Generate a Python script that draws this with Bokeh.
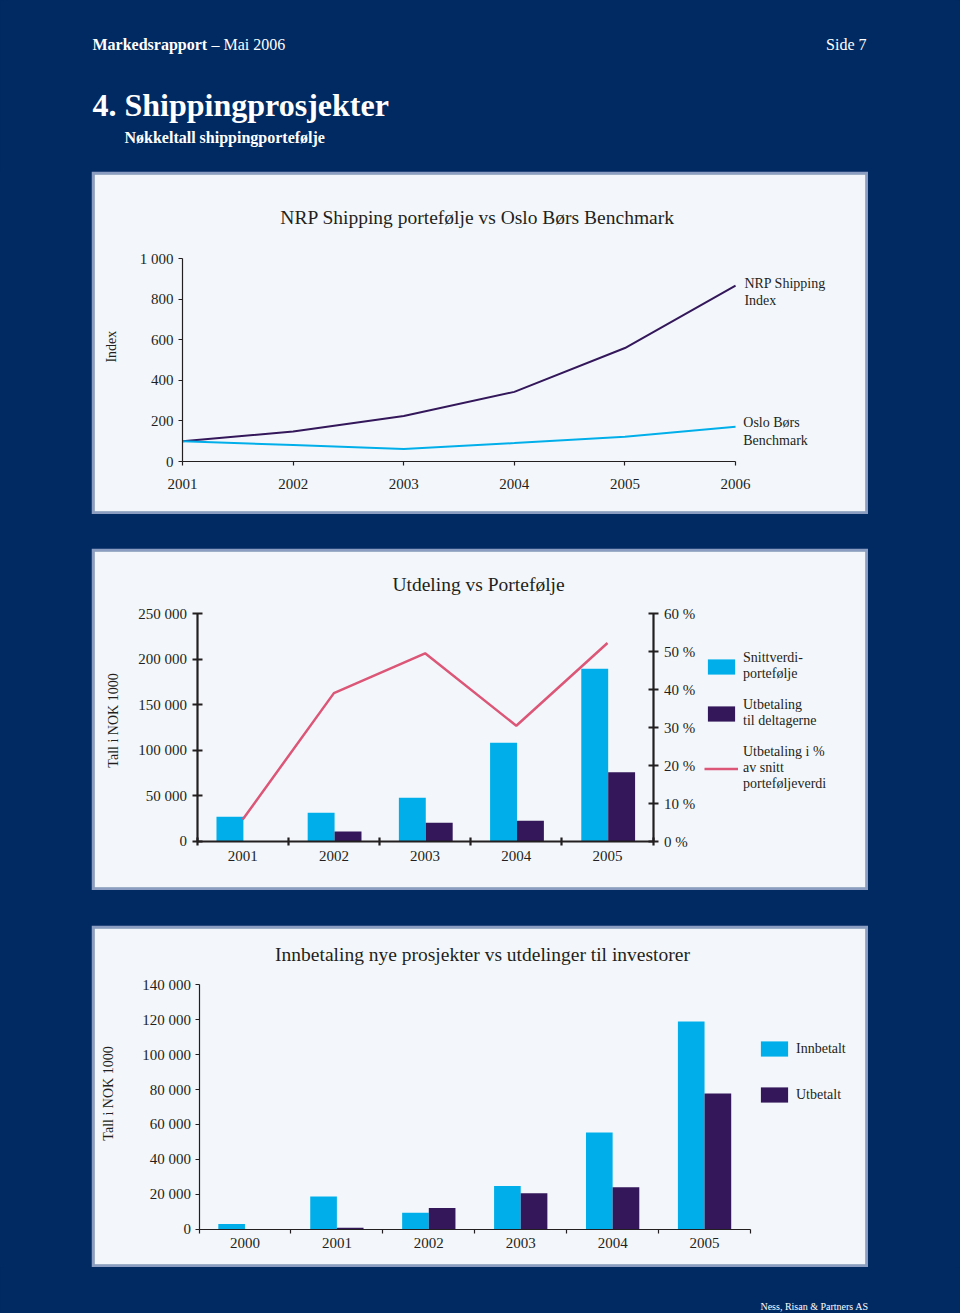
from math import pi
from bokeh.plotting import figure
from bokeh.models import (Label, FixedTicker, Range1d, LinearAxis, Legend, LegendItem,
                          Column, ColumnDataSource)
from bokeh.transform import dodge
from bokeh.embed import file_html
from bokeh.resources import INLINE

# ---------------- data ----------------
idx_years = [2001, 2002, 2003, 2004, 2005, 2006]
nrp_index = [100, 148, 224, 343, 559, 866]
oslo_index = [100, 81, 61, 91, 122, 171]
idx_ticks = [0, 200, 400, 600, 800, 1000]
idx_tick_labels = ["0", "200", "400", "600", "800", "1 000"]

ut_years = [2001, 2002, 2003, 2004, 2005]
snittverdi = [27100, 31500, 48000, 108400, 189600]
utbetaling = [0, 11000, 20500, 22700, 76100]
utbetaling_pct = [5.8, 39.1, 49.6, 30.5, 52.3]
ut_ticks = [0, 50000, 100000, 150000, 200000, 250000]
ut_tick_labels = ["0", "50 000", "100 000", "150 000", "200 000", "250 000"]
pct_ticks = [0, 10, 20, 30, 40, 50, 60]
pct_tick_labels = ["0 %", "10 %", "20 %", "30 %", "40 %", "50 %", "60 %"]

inn_years = [2000, 2001, 2002, 2003, 2004, 2005]
innbetalt = [3000, 18700, 9400, 24800, 55400, 119000]
utbetalt = [0, 900, 12200, 20600, 24100, 77700]
inn_ticks = [0, 20000, 40000, 60000, 80000, 100000, 120000, 140000]
inn_tick_labels = ["0", "20 000", "40 000", "60 000", "80 000", "100 000", "120 000", "140 000"]

# ---------------- style ----------------
NAVY = "#022a62"
PANEL = "#f3f7fb"
BORDER = "#8b9dc1"
CYAN = "#00afe9"
PURPLE = "#33175a"
PINK = "#dc5677"
INK = "#231f20"
FONT = "Liberation Serif"


def panel_fig(h, xr, yr, margin):
    # the 3px border of each panel is the figure's border fill; the frame is the inner panel
    p = figure(width=777, height=h, x_range=xr, y_range=yr, title=None,
               output_backend="svg", toolbar_location=None,
               x_axis_type=None, y_axis_type=None, min_border=3,
               background_fill_color=PANEL, border_fill_color=BORDER, outline_line_color=None,
               margin=margin)
    p.grid.visible = False
    return p


def style_axis(ax, lw, tin, tout, standoff, size="15px"):
    ax.axis_line_color = INK
    ax.axis_line_width = lw
    ax.major_tick_line_color = INK
    ax.major_tick_line_width = lw
    ax.major_tick_in = tin
    ax.major_tick_out = tout
    ax.minor_tick_line_color = None
    ax.major_label_text_font = FONT
    ax.major_label_text_font_size = size
    ax.major_label_text_color = INK
    ax.major_label_standoff = standoff


def lab(p, x, y, text, size="14px", align="left", baseline="middle", color=INK, style="normal", angle=0):
    p.add_layout(Label(x=x, y=y, text=text, text_font=FONT, text_font_size=size,
                       text_align=align, text_baseline=baseline, text_color=color,
                       text_font_style=style, angle=angle))


def legend(items, loc, spacing, standoff):
    return Legend(items=items, location=loc, glyph_width=34, glyph_height=19,
                  label_standoff=standoff, spacing=spacing, padding=0, margin=0,
                  border_line_color=None, background_fill_alpha=0,
                  label_text_font=FONT, label_text_font_size="14px", label_text_color=INK,
                  label_text_line_height=1.1)


# ---------------- header (page coordinates) ----------------
hdr = figure(width=960, height=171, x_range=Range1d(3, 957), y_range=Range1d(171, 0),
             title=None, output_backend="svg", toolbar_location=None,
             x_axis_type=None, y_axis_type=None,
             min_border_left=3, min_border_right=3, min_border_top=0, min_border_bottom=0,
             background_fill_color=NAVY, border_fill_color=NAVY, outline_line_color=None)
hdr.grid.visible = False
lab(hdr, 92, 43.5, "Markedsrapport", size="16px", color="white", style="bold")
lab(hdr, 211, 43.5, "\u2013 Mai 2006", size="16px", color="white")
lab(hdr, 866, 43.5, "Side 7", size="16px", align="right", color="white")
lab(hdr, 92, 104, "4. Shippingprosjekter", size="32px", color="white", style="bold")
lab(hdr, 124, 136.5, "N\u00f8kkeltall shippingportef\u00f8lje", size="16px", color="white", style="bold")

# ---------------- chart 1 ----------------
p1 = panel_fig(343, Range1d(2000.204, 2007.175), Range1d(-246.3, 1413.8), (0, 0, 0, 91))
p1.line(idx_years, nrp_index, line_color=PURPLE, line_width=2)
p1.line(idx_years, oslo_index, line_color=CYAN, line_width=2)
ax1x = LinearAxis(fixed_location=0, bounds=(2001, 2006), ticker=FixedTicker(ticks=idx_years))
ax1y = LinearAxis(fixed_location=2001, bounds=(0, 1000), ticker=FixedTicker(ticks=idx_ticks),
                  major_label_overrides=dict(zip(idx_ticks, idx_tick_labels)))
style_axis(ax1x, 1.2, 0, 4, 13)
style_axis(ax1y, 1.2, 0, 4, 5)
p1.add_layout(ax1x, "below")
p1.add_layout(ax1y, "left")
lab(p1, 2003.667, 1202, "NRP Shipping portef\u00f8lje vs Oslo B\u00f8rs Benchmark", size="19.5px", align="center")
lab(p1, 2000.358, 566, "Index", size="14px", align="center", angle=pi / 2)
lab(p1, 2006.08, 877, "NRP Shipping")
lab(p1, 2006.08, 793, "Index")
lab(p1, 2006.07, 192, "Oslo B\u00f8rs")
lab(p1, 2006.07, 103, "Benchmark")

# ---------------- chart 2 ----------------
src2 = ColumnDataSource(dict(year=ut_years, snitt=snittverdi, utbet=utbetaling, pct=utbetaling_pct))
p2 = panel_fig(342, Range1d(1999.375, 2007.829), Range1d(-50549, 318455), (34, 0, 0, 91))
p2.extra_y_ranges = {"pct": Range1d(-12.12, 76.42)}
r_snitt = p2.vbar(x=dodge("year", -0.14), top="snitt", width=0.295, source=src2,
                  fill_color=CYAN, line_color=None)
r_utbet = p2.vbar(x=dodge("year", 0.155), top="utbet", width=0.295, source=src2,
                  fill_color=PURPLE, line_color=None)
r_pct = p2.line(x="year", y="pct", source=src2, y_range_name="pct", line_color=PINK, line_width=2.5)
ax2x = LinearAxis(fixed_location=0, bounds=(2000.5, 2005.5),
                  ticker=FixedTicker(ticks=ut_years, minor_ticks=[2000.5 + i for i in range(6)]))
ax2y = LinearAxis(fixed_location=2000.5, bounds=(0, 250000), ticker=FixedTicker(ticks=ut_ticks),
                  major_label_overrides=dict(zip(ut_ticks, ut_tick_labels)))
ax2r = LinearAxis(y_range_name="pct", fixed_location=2005.5, bounds=(0, 60),
                  ticker=FixedTicker(ticks=pct_ticks),
                  major_label_overrides=dict(zip(pct_ticks, pct_tick_labels)))
style_axis(ax2x, 2.2, 0, 0, 6)
ax2x.minor_tick_line_color = INK
ax2x.minor_tick_line_width = 2.2
ax2x.minor_tick_in = 4
ax2x.minor_tick_out = 4
style_axis(ax2y, 2.2, 5, 5, 5)
style_axis(ax2r, 2.2, 5, 5, 6)
p2.add_layout(ax2x, "below")
p2.add_layout(ax2y, "left")
p2.add_layout(ax2r, "right")
lab(p2, 2003.586, 282170, "Utdeling vs Portef\u00f8lje", size="19.5px", align="center")
lab(p2, 1999.583, 132850, "Tall i NOK 1000", size="14px", align="center", angle=pi / 2)
leg2 = legend([LegendItem(label="Snittverdi-\nportef\u00f8lje", renderers=[r_snitt]),
               LegendItem(label="Utbetaling\ntil deltagerne", renderers=[r_utbet]),
               LegendItem(label="Utbetaling i %\nav snitt\nportef\u00f8ljeverdi", renderers=[r_pct])],
              (610, 95), 15, 5)
p2.add_layout(leg2)

# ---------------- chart 3 ----------------
src3 = ColumnDataSource(dict(year=inn_years, inn=innbetalt, ut=utbetalt))
p3 = panel_fig(342, Range1d(1998.363, 2006.751), Range1d(-20221, 172251), (35, 0, 0, 91))
r_inn = p3.vbar(x=dodge("year", -0.145), top="inn", width=0.29, source=src3,
                fill_color=CYAN, line_color=None)
r_ut = p3.vbar(x=dodge("year", 0.145), top="ut", width=0.29, source=src3,
               fill_color=PURPLE, line_color=None)
ax3x = LinearAxis(fixed_location=0, bounds=(1999.5, 2005.5),
                  ticker=FixedTicker(ticks=inn_years, minor_ticks=[1999.5 + i for i in range(7)]))
ax3y = LinearAxis(fixed_location=1999.5, bounds=(0, 140000), ticker=FixedTicker(ticks=inn_ticks),
                  major_label_overrides=dict(zip(inn_ticks, inn_tick_labels)))
style_axis(ax3x, 1.2, 0, 0, 5)
ax3x.minor_tick_line_color = INK
ax3x.minor_tick_line_width = 1.2
ax3x.minor_tick_in = 0
ax3x.minor_tick_out = 4
style_axis(ax3y, 1.2, 0, 4, 4)
p3.add_layout(ax3x, "below")
p3.add_layout(ax3y, "left")
lab(p3, 2002.584, 157358, "Innbetaling nye prosjekter vs utdelinger til investorer", size="19.5px", align="center")
lab(p3, 1998.515, 77734, "Tall i NOK 1000", size="14px", align="center", angle=pi / 2)
leg3 = legend([LegendItem(label="Innbetalt", renderers=[r_inn]),
               LegendItem(label="Utbetalt", renderers=[r_ut])],
              (663, 160), 27, 5)
p3.add_layout(leg3)

# ---------------- footer (page coordinates) ----------------
ftr = figure(width=960, height=46, x_range=Range1d(3, 957), y_range=Range1d(1313, 1267),
             title=None, output_backend="svg", toolbar_location=None,
             x_axis_type=None, y_axis_type=None,
             min_border_left=3, min_border_right=3, min_border_top=0, min_border_bottom=0,
             background_fill_color=NAVY, border_fill_color=NAVY, outline_line_color=None)
ftr.grid.visible = False
lab(ftr, 868, 1306, "Ness, Risan & Partners AS", size="10px", align="right", color="white")

page = Column(children=[hdr, p1, p2, p3, ftr], spacing=0, styles={"background-color": NAVY})

open("out.html", "w").write(file_html(page, INLINE))
